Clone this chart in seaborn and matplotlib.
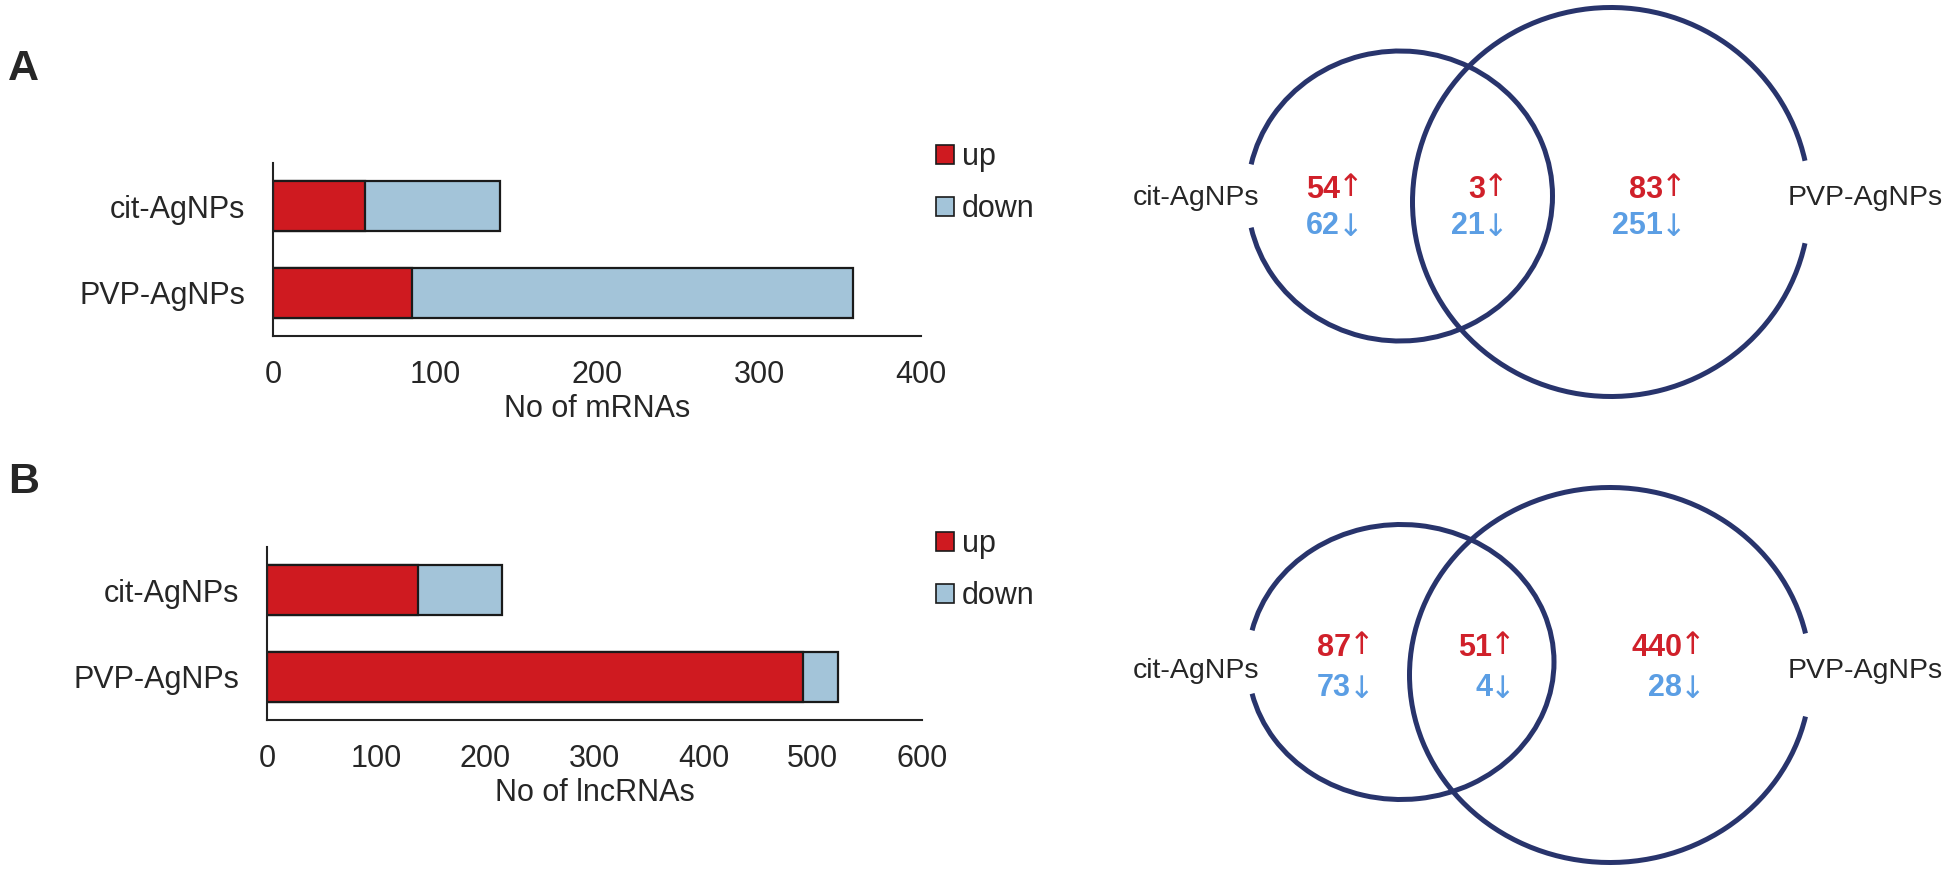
import matplotlib
matplotlib.use("Agg")
import matplotlib.pyplot as plt
from matplotlib.patches import Arc, Patch
import seaborn as sns
import pandas as pd

# data
groups = ["cit-AgNPs", "PVP-AgNPs"]
mrna_up = [57, 86]
mrna_down = [83, 272]
lnc_up = [138, 491]
lnc_down = [77, 32]

# venn counts: only cit, shared, only PVP
mrna_venn_up = [54, 3, 83]
mrna_venn_down = [62, 21, 251]
lnc_venn_up = [87, 51, 440]
lnc_venn_down = [73, 4, 28]

RED = "#cf1a20"
BLUE = "#a3c4d9"
TXT_RED = "#d0202a"
TXT_BLUE = "#5b9ee4"
NAVY = "#28346c"
FS = 22

sns.set_style("white")
plt.rcParams["font.family"] = ["Liberation Sans", "DejaVu Sans"]

fig = plt.figure(figsize=(19.5, 8.74), dpi=100)
W, H = 1950, 874


def bar_panel(rect, up, down, xmax, xlabel, legend_y):
    ax = fig.add_axes(rect)
    df = pd.DataFrame({"group": groups, "up": up,
                       "total": [u + d for u, d in zip(up, down)]})
    sns.barplot(data=df, x="total", y="group", color=BLUE, saturation=1,
                edgecolor="#1a1a1a", linewidth=1.6, width=0.58, ax=ax)
    sns.barplot(data=df, x="up", y="group", color=RED, saturation=1,
                edgecolor="#1a1a1a", linewidth=1.6, width=0.58, ax=ax)
    ax.set_xlim(0, xmax)
    ax.set_ylim(1.5, -0.5)
    ax.set_xticks(range(0, xmax + 1, 100))
    for s in ["top", "right"]:
        ax.spines[s].set_visible(False)
    for s in ["left", "bottom"]:
        ax.spines[s].set_linewidth(1.5)
        ax.spines[s].set_color("#222222")
    ax.tick_params(axis="x", direction="in", length=8, width=1.5,
                   pad=17, labelsize=FS, color="#222222")
    ax.tick_params(axis="y", length=0, pad=20, labelsize=FS)
    ax.set_xlabel(xlabel, fontsize=FS, labelpad=3)
    ax.set_ylabel("")
    handles = [Patch(facecolor=RED, edgecolor="#1a1a1a", lw=1.2, label="up"),
               Patch(facecolor=BLUE, edgecolor="#1a1a1a", lw=1.2, label="down")]
    fig.legend(handles=handles, loc="upper left",
               bbox_to_anchor=(936 / W, 1 - legend_y / H), frameon=False,
               fontsize=FS, handlelength=0.6, handleheight=0.6,
               handletextpad=0.25, labelspacing=0.72, borderpad=0,
               borderaxespad=0)
    return ax


bar_panel([273 / W, 1 - 336 / H, 648 / W, 173 / H], mrna_up, mrna_down,
          400, "No of mRNAs", 142)
bar_panel([267 / W, 1 - 720 / H, 655 / W, 173 / H], lnc_up, lnc_down,
          600, "No of lncRNAs", 529)

fig.text(8 / W, 1 - 69 / H, "A", fontsize=31, fontweight="bold",
         va="center", ha="left")
fig.text(8 / W, 1 - 482 / H, "B", fontsize=31, fontweight="bold",
         va="center", ha="left")

# venn diagrams in pixel coordinates
vax = fig.add_axes([0, 0, 1, 1])
vax.set_xlim(0, W)
vax.set_ylim(H, 0)
vax.axis("off")
vax.patch.set_alpha(0)


def venn(left, right, gap, ups, downs, xs, y_up, y_down, label_y):
    lx, ly, lw, lh = left
    rx, ry, rw, rh = right
    vax.add_patch(Arc((lx, ly), lw, lh, theta1=-180 + gap, theta2=180 - gap,
                      color=NAVY, lw=3.6))
    vax.add_patch(Arc((rx, ry), rw, rh, theta1=gap, theta2=360 - gap,
                      color=NAVY, lw=3.6))
    vax.text(1196, label_y, "cit-AgNPs", fontsize=20.5, ha="center", va="center")
    vax.text(1865, label_y, "PVP-AgNPs", fontsize=20.5, ha="center", va="center")
    for x, u, d in zip(xs, ups, downs):
        vax.text(x, y_up, str(u), fontsize=FS, fontweight="bold",
                 color=TXT_RED, ha="right", va="center")
        vax.text(x - 2, y_up - 2, "\u2191", fontsize=FS, family="DejaVu Sans",
                 color=TXT_RED, ha="left", va="center")
        vax.text(x, y_down, str(d), fontsize=FS, fontweight="bold",
                 color=TXT_BLUE, ha="right", va="center")
        vax.text(x - 2, y_down + 2, "\u2193", fontsize=FS, family="DejaVu Sans",
                 color=TXT_BLUE, ha="left", va="center")


venn((1400, 196, 305, 290), (1611, 202, 397, 389), 12,
     mrna_venn_up, mrna_venn_down, [1340, 1485, 1663], 190, 226, 198)
venn((1401, 662, 306, 275), (1610, 675, 401, 375), 12,
     lnc_venn_up, lnc_venn_down, [1351, 1492, 1682], 648, 688, 671)

fig.savefig("out.png", dpi=100)
